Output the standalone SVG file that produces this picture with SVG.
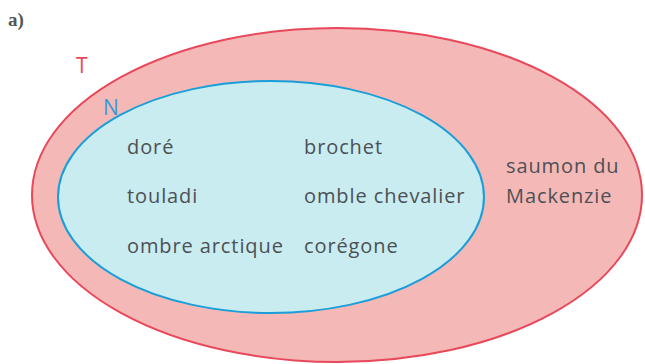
<svg xmlns="http://www.w3.org/2000/svg" width="645" height="364" viewBox="0 0 645 364">
<style>
.lbl{font-family:"Open Sans","Liberation Sans",sans-serif;font-size:20px;letter-spacing:0.9px;fill:#4d5055}
.set{font-family:"Open Sans","Liberation Sans",sans-serif;font-size:21px}
</style>
<rect width="645" height="364" fill="#ffffff"/>
<text x="8" y="26" font-family="Liberation Serif,serif" font-weight="bold" font-size="19" fill="#555">a)</text>
<g id="T">
<ellipse cx="337" cy="195" rx="305" ry="167" fill="#f4b8b7" stroke="#e8485a" stroke-width="2"/>
<text class="set" x="76" y="73" fill="#e8485a">T</text>
<text class="lbl" x="506" y="173" letter-spacing="0.3">saumon du</text>
<text class="lbl" x="506" y="203" letter-spacing="0.3">Mackenzie</text>
</g>
<g id="N">
<ellipse cx="271" cy="197" rx="213" ry="116" fill="#c8ecf0" stroke="#1a9ed9" stroke-width="2"/>
<text class="set" x="103" y="115" fill="#3a9ad9">N</text>
<text class="lbl" x="127" y="154">doré</text>
<text class="lbl" x="304" y="154">brochet</text>
<text class="lbl" x="127" y="203">touladi</text>
<text class="lbl" x="304" y="203">omble chevalier</text>
<text class="lbl" x="127" y="253">ombre arctique</text>
<text class="lbl" x="304" y="253">corégone</text>
</g>
</svg>
